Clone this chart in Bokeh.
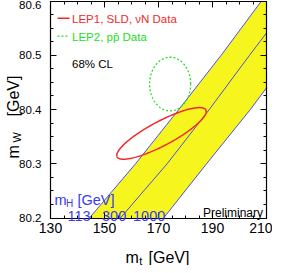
import numpy as np
from bokeh.plotting import figure
from bokeh.models import Range1d, FixedTicker, LinearAxis, Label, CustomJSTickFormatter
from bokeh.embed import file_html
from bokeh.resources import INLINE

# ---------------- data ----------------
mw_levels = [80.2, 80.3, 80.4, 80.5, 80.6]          # m_W [GeV]
mt_mh113 = [144.4, 161.5, 177.5, 193.2, 208.1]       # m_t on the mH=113 GeV line
mt_mh300 = [155.9, 173.2, 188.8, 203.7, 219.0]       # m_t on the mH=300 GeV line
mt_mh1000 = [171.9, 187.8, 204.0, 219.0, 234.0]      # m_t on the mH=1000 GeV line
mh_labels = ["113", "300", "1000"]

# 68% CL contours: centre (mt, mW), half extents (mt, mW), correlation
lep1_center = [171.1, 80.356]
lep1_half = [16.55, 0.0476]
lep1_rho = 0.85
lep2_center = [174.3, 80.447]
lep2_half = [7.6, 0.0495]
lep2_rho = 0.0

x_ticks = [130, 150, 170, 190, 210]
y_ticks = [80.2, 80.3, 80.4, 80.5, 80.6]
x_lim = [130, 210]
y_lim = [80.2, 80.6]

# ---------------- styles / layout ----------------
FONT = "Liberation Sans"
RED = "#f02a2a"
GREEN = "#22e022"
BLUE = "#3a3af5"
YELLOW = "#f6f61e"

PAGE0 = 8                                         # page margin
W, H = 272, 265                                   # canvas size in pixels
BOX_L, BOX_R, BOX_T, BOX_B = 58, 274, 8.6, 225.5  # plot box in page pixels
REF_T, REF_B = 6.7, 225                           # plot box rows in the reference picture
XS = (BOX_R - BOX_L) / (x_lim[1] - x_lim[0])
YS = (BOX_B - BOX_T) / (y_lim[1] - y_lim[0])


def dx(px):
    return x_lim[0] + (px - BOX_L) / XS


def dy(py):          # page row -> data
    return y_lim[1] - (py - BOX_T) / YS


def ry(py):          # reference row (inside the box) -> data
    return y_lim[1] - (py - REF_T) * (y_lim[1] - y_lim[0]) / (REF_B - REF_T)


x_view = [dx(PAGE0), dx(PAGE0 + W)]
y_view = [dy(PAGE0 + H), dy(PAGE0)]
BOX = (x_lim[0], x_lim[1], y_lim[0], y_lim[1])


def contour(center, half, rho, n=240):
    t = np.linspace(0, 2 * np.pi, n)
    xs = center[0] + half[0] * np.cos(t)
    ys = center[1] + half[1] * (rho * np.cos(t) + np.sqrt(1 - rho ** 2) * np.sin(t))
    return xs, ys


def clip_polygon(xs, ys, box):
    x0, x1, y0, y1 = box
    pts = list(zip(xs, ys))

    def clip(pts, inside, cut):
        out = []
        for i in range(len(pts)):
            cur, prev = pts[i], pts[i - 1]
            if inside(cur):
                if not inside(prev):
                    out.append(cut(prev, cur))
                out.append(cur)
            elif inside(prev):
                out.append(cut(prev, cur))
        return out

    def cx(a, b, v):
        t = (v - a[0]) / (b[0] - a[0])
        return (v, a[1] + t * (b[1] - a[1]))

    def cy(a, b, v):
        t = (v - a[1]) / (b[1] - a[1])
        return (a[0] + t * (b[0] - a[0]), v)

    pts = clip(pts, lambda q: q[0] >= x0, lambda a, b: cx(a, b, x0))
    pts = clip(pts, lambda q: q[0] <= x1, lambda a, b: cx(a, b, x1))
    pts = clip(pts, lambda q: q[1] >= y0, lambda a, b: cy(a, b, y0))
    pts = clip(pts, lambda q: q[1] <= y1, lambda a, b: cy(a, b, y1))
    return [q[0] for q in pts], [q[1] for q in pts]


def clip_line(xs, ys, box):
    xmin, xmax, ymin, ymax = box
    ox, oy = [], []
    for i in range(len(xs) - 1):
        ax, ay, bx, by = xs[i], ys[i], xs[i + 1], ys[i + 1]
        ddx, ddy = bx - ax, by - ay
        t0, t1, ok = 0.0, 1.0, True
        for pp, qq in ((-ddx, ax - xmin), (ddx, xmax - ax), (-ddy, ay - ymin), (ddy, ymax - ay)):
            if pp == 0:
                if qq < 0:
                    ok = False
            else:
                r = qq / pp
                if pp < 0:
                    t0 = max(t0, r)
                else:
                    t1 = min(t1, r)
        if not ok or t0 > t1:
            continue
        sx, sy = ax + t0 * ddx, ay + t0 * ddy
        ex, ey = ax + t1 * ddx, ay + t1 * ddy
        if not ox or abs(ox[-1] - sx) > 1e-9 or abs(oy[-1] - sy) > 1e-9:
            ox.append(sx)
            oy.append(sy)
        ox.append(ex)
        oy.append(ey)
    return ox, oy


p = figure(width=W, height=H,
           x_range=Range1d(*x_view), y_range=Range1d(*y_view),
           x_axis_location=None, y_axis_location=None,
           output_backend="svg", toolbar_location=None,
           min_border=0, min_border_left=0, min_border_right=0,
           min_border_top=0, min_border_bottom=0)
p.background_fill_color = "white"
p.border_fill_color = "white"
p.outline_line_color = None
for g in p.grid:
    g.visible = False

x_ticker = FixedTicker(ticks=x_ticks, minor_ticks=list(np.arange(130, 210.1, 5)))
y_ticker = FixedTicker(ticks=y_ticks, minor_ticks=list(np.round(np.arange(80.2, 80.601, 0.025), 3)))


def add_axis(place, ticker, bounds, loc, font_size=None, standoff=0, fmt=None):
    ax = LinearAxis(ticker=ticker, bounds=tuple(bounds), fixed_location=loc)
    ax.axis_line_color = "black"
    ax.axis_line_width = 1.2
    ax.major_tick_in = 6
    ax.major_tick_out = 0
    ax.minor_tick_in = 3
    ax.minor_tick_out = 0
    ax.major_tick_line_color = "black"
    ax.minor_tick_line_color = "black"
    if font_size:
        ax.formatter = CustomJSTickFormatter(code=fmt)
        ax.major_label_text_font = FONT
        ax.major_label_text_font_size = font_size
        ax.major_label_text_color = "black"
        ax.major_label_standoff = standoff
    else:
        ax.formatter = CustomJSTickFormatter(code="return ''")
        ax.major_label_text_font_size = "0px"
        ax.major_label_standoff = 0
    p.add_layout(ax, place)


add_axis("below", x_ticker, x_lim, y_lim[0], "14px", 5, "return tick.toFixed(0)")
add_axis("left", y_ticker, y_lim, x_lim[0], "11.5px", 9, "return tick.toFixed(1)")
add_axis("above", x_ticker, x_lim, y_lim[1])
add_axis("right", y_ticker, y_lim, x_lim[1])

# ---------------- SM band ----------------
band_x, band_y = clip_polygon(list(mt_mh113) + list(reversed(mt_mh1000)),
                              list(mw_levels) + list(reversed(mw_levels)), BOX)
p.patch(band_x, band_y, fill_color=YELLOW, line_color=None)
for mts in (mt_mh113, mt_mh300, mt_mh1000):
    lx, ly = clip_line(mts, mw_levels, BOX)
    p.line(lx, ly, line_color=BLUE, line_width=0.9)

# ---------------- contours ----------------
gx, gy = contour(lep2_center, lep2_half, lep2_rho)
p.line(gx, gy, line_color=GREEN, line_width=1.3, line_dash="2 2")
rx, ry_ = contour(lep1_center, lep1_half, lep1_rho)
p.line(rx, ry_, line_color=RED, line_width=1.5)

# ---------------- legend ----------------
p.line([dx(65), dx(77)], [ry(24), ry(24)], line_color=RED, line_width=1.5)
p.line([dx(65), dx(77)], [ry(42), ry(42)], line_color=GREEN, line_width=1.3, line_dash="2 2")


def label(text, px, y, size, color="black", align="left", baseline="alphabetic", angle=0):
    p.add_layout(Label(x=dx(px), y=y, text=text, text_font=FONT, text_font_size=size,
                       text_color=color, text_align=align, text_baseline=baseline,
                       angle=angle, angle_units="deg"))


label("LEP1, SLD, \u03bdN Data", 79.5, ry(24.5), "11.5px", RED, baseline="middle")
label("LEP2, pp\u0304 Data", 79.5, ry(42.5), "11.5px", GREEN, baseline="middle")
label("68% CL", 79.5, ry(70.5), "11.5px", "black", baseline="middle")
label("Preliminary", 270.5, ry(219.5), "12px", "black", align="right")

# mH labels
label("m", 62, ry(206.5), "14.5px", BLUE)
label("H", 73.5, ry(210), "10px", BLUE)
label("[GeV]", 85, ry(206.5), "14.5px", BLUE)
for txt, px in zip(mh_labels, [75, 109.5, 140.5]):
    label(txt, px, ry(222.5), "14.5px", BLUE)

# axis titles
label("m", 133, dy(265), "16px")
label("t", 146.8, dy(268), "11px")
label("[GeV]", 156, dy(265), "16px")
label("m", 20.5, dy(166), "16px", angle=90)
label("W", 24, dy(150), "11px", angle=90)
label("[GeV]", 20.5, dy(124), "16px", angle=90)

open("out.html", "w").write(file_html(p, INLINE))
